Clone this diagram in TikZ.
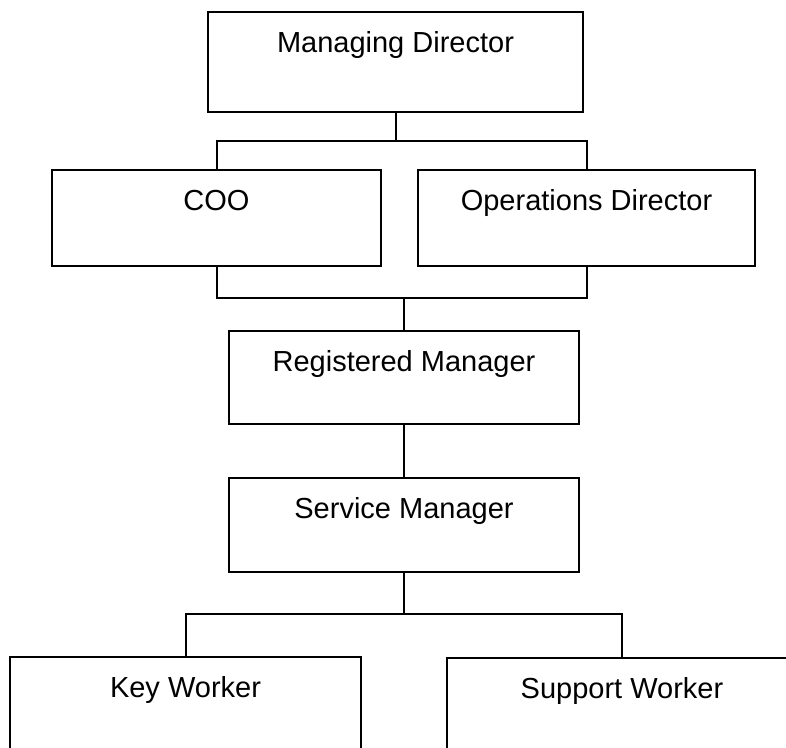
\documentclass[tikz,border=0pt]{standalone}
\usepackage{fontspec}
\setmainfont{Liberation Sans}
\begin{document}
\begin{tikzpicture}[x=1pt,y=-1pt,
  box/.style={draw, line width=2pt, rectangle, outer sep=0pt, inner sep=0pt},
  lbl/.style={anchor=base, font=\fontsize{29}{34}\selectfont, inner sep=0pt},
  conn/.style={line width=2pt}]
\useasboundingbox (0,0) rectangle (786,747);
% boxes
\node[box, minimum width=375pt, minimum height=100pt] (md)  at (395.5,62) {};
\node[box, minimum width=329pt, minimum height=96pt]  (coo) at (216.5,218) {};
\node[box, minimum width=337pt, minimum height=96pt]  (od)  at (586.5,218) {};
\node[box, minimum width=350pt, minimum height=93pt]  (rm)  at (404,377.5) {};
\node[box, minimum width=350pt, minimum height=94pt]  (sm)  at (404,525) {};
\node[box, minimum width=351pt, minimum height=130pt] (kw)  at (185.5,722) {};
\node[box, minimum width=350pt, minimum height=130pt] (sw)  at (622,723) {};
% labels
\node[lbl] (tmd)  at (395.5,52)  {Managing Director};
\node[lbl] (tcoo) at (216.5,210) {COO};
\node[lbl] (tod)  at (586.5,210) {Operations Director};
\node[lbl] (trm)  at (404,371)   {Registered Manager};
\node[lbl] (tsm)  at (404,518)   {Service Manager};
\node[lbl] (tkw)  at (185.5,697) {Key Worker};
\node[lbl] (tsw)  at (622,698)   {Support Worker};
% bus coordinates
\coordinate (bus1) at (0,141);
\coordinate (bus2) at (0,298);
\coordinate (bus3) at (0,614);
% connectors
\draw[conn] (md.south) -- (md.south |- bus1);
\draw[conn] (coo.north) -- (coo.north |- bus1) -- (od.north |- bus1) -- (od.north);
\draw[conn] (coo.south) -- (coo.south |- bus2) -- (od.south |- bus2) -- (od.south);
\draw[conn] (rm.north) -- (rm.north |- bus2);
\draw[conn] (rm.south) -- (sm.north);
\draw[conn] (sm.south) -- (sm.south |- bus3);
\draw[conn] (kw.north) -- (kw.north |- bus3) -- (sw.north |- bus3) -- (sw.north);
\end{tikzpicture}
\end{document}
